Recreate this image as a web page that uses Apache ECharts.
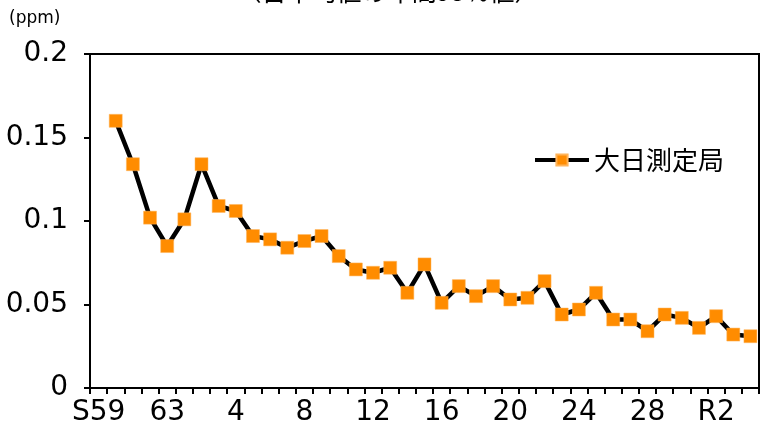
<!DOCTYPE html>
<html>
<head>
<meta charset="utf-8">
<title>大日測定局</title>
<script src="https://cdn.jsdelivr.net/npm/echarts@6/dist/echarts.min.js"></script>
<style>
  html, body { margin: 0; padding: 0; background: #fff; }
  #chart { width: 776px; height: 432px; }
</style>
</head>
<body>
<div id="chart"></div>
<script>
// 年度ラベル (S59 ～ R4)
var years = ['S59', '60', '61', '62', '63'];
for (var h = 1; h <= 30; h++) { years.push(h === 1 ? 'H1' : String(h)); }
years.push('R1', 'R2', 'R3', 'R4');

// 大日測定局 (ppm) 先頭は欠測
var daiNichi = [null, 0.160, 0.134, 0.102, 0.085, 0.101, 0.134, 0.109, 0.106, 0.091,
  0.089, 0.084, 0.088, 0.091, 0.079, 0.071, 0.069, 0.072, 0.057, 0.074,
  0.051, 0.061, 0.055, 0.061, 0.053, 0.054, 0.064, 0.044, 0.047, 0.057,
  0.041, 0.041, 0.034, 0.044, 0.042, 0.036, 0.043, 0.032, 0.031];

var titleText = '（日平均値の年間98％値）';
var unitText = '(ppm)';
var seriesName = '大日測定局';

var font = 'DejaVu Sans';
var chart = echarts.init(document.getElementById('chart'));
chart.setOption({
  animation: false,
  grid: {
    left: 90, right: 17, top: 54, bottom: 44,
    show: true, borderColor: '#000', borderWidth: 2
  },
  graphic: [
    { type: 'text', left: 'center', top: -21,
      style: { text: titleText, fontSize: 25, fontFamily: 'Noto Sans CJK JP', fill: '#000' } },
    { type: 'text', left: 9, top: 10,
      style: { text: unitText, fontSize: 17, fontFamily: font, fill: '#000' } }
  ],
  legend: {
    data: [seriesName],
    left: 528, top: 142,
    itemWidth: 54, itemHeight: 14, itemGap: 6,
    lineStyle: { width: 4, color: '#000' },
    textStyle: { fontSize: 26, fontFamily: 'Noto Sans CJK JP', color: '#000' }
  },
  xAxis: {
    type: 'category',
    data: years,
    boundaryGap: true,
    axisLine: { lineStyle: { color: '#000', width: 2 } },
    axisTick: { show: true, interval: 0, length: 6, lineStyle: { color: '#000', width: 2 } },
    axisLabel: { interval: 3, margin: 11, fontSize: 28, fontFamily: font, color: '#000' }
  },
  yAxis: {
    type: 'value',
    min: 0, max: 0.2, interval: 0.05,
    axisLine: { show: true, lineStyle: { color: '#000', width: 2 } },
    axisTick: { show: true, length: 6, lineStyle: { color: '#000', width: 2 } },
    axisLabel: { margin: 22, fontSize: 28, fontFamily: font, color: '#000' },
    splitLine: { show: false }
  },
  series: [{
    name: seriesName,
    type: 'line',
    data: daiNichi,
    symbol: 'rect',
    symbolSize: 13,
    showAllSymbol: true,
    lineStyle: { color: '#000', width: 4.5 },
    itemStyle: { color: '#FF8C00', borderColor: '#FFB45A', borderWidth: 0.5 }
  }]
});
</script>
</body>
</html>
